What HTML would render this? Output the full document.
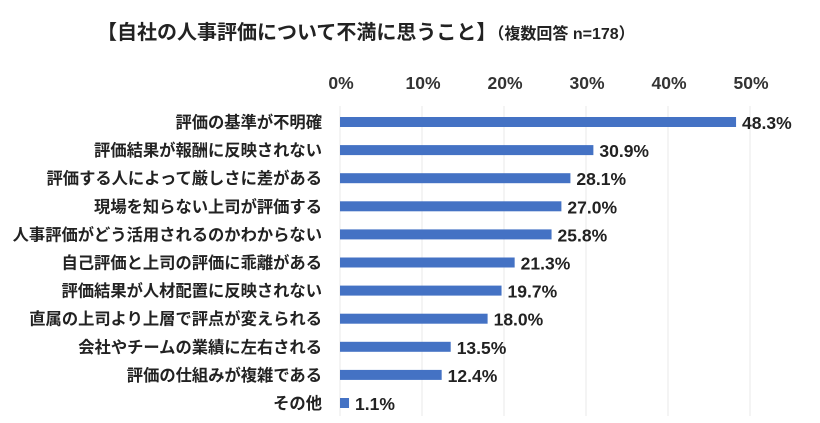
<!DOCTYPE html>
<html><head><meta charset="utf-8"><style>
body{margin:0;background:#fff;}
svg{display:block;font-family:"Liberation Sans","Noto Sans CJK JP",sans-serif;}
</style></head><body>
<svg width="820" height="423" id="chart">
<text x="97" y="39" font-size="20" font-weight="bold" fill="#222">【自社の人事評価について不満に思うこと】<tspan font-size="16">（複数回答 n=178）</tspan></text>
<g id="grid"></g><g id="ticks"></g><g id="bars"></g>
</svg>
<script>
const categories=["評価の基準が不明確","評価結果が報酬に反映されない","評価する人によって厳しさに差がある","現場を知らない上司が評価する","人事評価がどう活用されるのかわからない","自己評価と上司の評価に乖離がある","評価結果が人材配置に反映されない","直属の上司より上層で評点が変えられる","会社やチームの業績に左右される","評価の仕組みが複雑である","その他"];
const values=[48.3,30.9,28.1,27.0,25.8,21.3,19.7,18.0,13.5,12.4,1.1];
const tickLabels=[0,10,20,30,40,50];
const NS="http://www.w3.org/2000/svg";
const x=v=>340+v*8.2;
const y=i=>122+i*28.1;
function mk(tag,attrs,parent,text){const e=document.createElementNS(NS,tag);for(const k in attrs)e.setAttribute(k,attrs[k]);if(text!==undefined)e.textContent=text;document.getElementById(parent).appendChild(e);return e;}
tickLabels.forEach(t=>{
  const l=mk('line',{x1:x(t),x2:x(t),y1:106,y2:416,stroke:'#e8e8e8','stroke-width':1},'grid');
  
  
  const tx=mk('text',{x:x(t)+1,y:89,'text-anchor':'middle','font-size':17.5,'font-weight':'bold',fill:'#333'},'ticks',t+'%');
  
  
});
categories.forEach((c,i)=>{
  const lb=mk('text',{x:322,y:y(i)+6,'text-anchor':'end','font-size':16.3,'font-weight':'bold',fill:'#222'},'bars',c);
  
  
  const r=mk('rect',{x:x(0),y:y(i)-5,width:x(values[i])-x(0),height:10,fill:'#4472c4'},'bars');
  
  
  const v=mk('text',{x:x(values[i])+6,y:y(i)+7,'font-size':17.5,'font-weight':'bold',fill:'#222'},'bars',values[i].toFixed(1)+'%');
  
  
});
</script>
</body></html>
